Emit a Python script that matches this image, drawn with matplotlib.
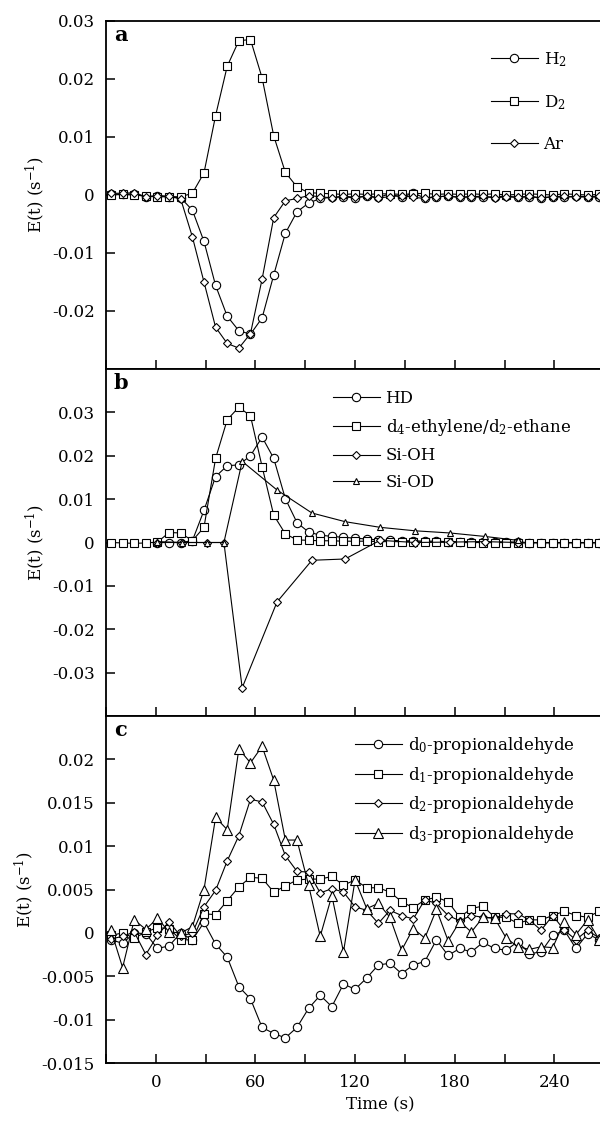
import matplotlib
matplotlib.use('Agg')
import matplotlib.pyplot as plt
from matplotlib.ticker import MultipleLocator, FuncFormatter

plt.rcParams['font.family'] = 'DejaVu Serif'
plt.rcParams['mathtext.fontset'] = 'dejavuserif'
plt.rcParams['axes.unicode_minus'] = False
plt.rcParams['font.size'] = 12

# time grid (s), shared by the sampled series
time_s = [-27, -20, -13, -6, 1, 8, 15, 22, 29, 36, 43, 50, 57, 64, 71, 78, 85,
          92, 99, 106, 113, 120, 127, 134, 141, 148, 155, 162, 169, 176, 183,
          190, 197, 204, 211, 218, 225, 232, 239, 246, 253, 260, 267]

# panel a
h2 = [0.0002, 0.0001, 0.0002, -0.0003, -0.0002, -0.0003, -0.0005, -0.0026,
      -0.0080, -0.0156, -0.0209, -0.0234, -0.0240, -0.0212, -0.0138, -0.0066,
      -0.0029, -0.0014, -0.0006,
      -0.0004, -0.0003, -0.0005, -0.0002, -0.0004, 0.0002, -0.0004, 0.0003,
      -0.0005, -0.0003, -0.0002, -0.0004, -0.0003, -0.0004, -0.0003, -0.0002,
      -0.0004, -0.0003, -0.0005, -0.0003, -0.0004, -0.0002, -0.0003, -0.0004]
d2 = [0.0, 0.0001, 0.0, -0.0002, -0.0003, -0.0003, -0.0003, 0.0003, 0.0038,
      0.0137, 0.0222, 0.0266, 0.0268, 0.0202, 0.0102, 0.0039, 0.0014, 0.0004,
      0.0003,
      0.0002, 0.0001, 0.0002, 0.0001, 0.0002, 0.0002, 0.0001, 0.0002, 0.0003,
      0.0001, 0.0002, 0.0001, 0.0002, 0.0001, 0.0002, 0.0000, 0.0001, 0.0002,
      0.0001, 0.0000, 0.0002, 0.0001, 0.0000, 0.0001]
ar = [0.0003, 0.0003, 0.0004, -0.0003, -0.0001, -0.0002, -0.0007, -0.0072,
      -0.0150, -0.0228, -0.0256, -0.0264, -0.0239, -0.0145, -0.0039, -0.0010,
      -0.0006, -0.0001,
      -0.0003, -0.0005, -0.0002, -0.0004, -0.0002, -0.0005, -0.0003, -0.0001,
      -0.0004, -0.0006, -0.0003, -0.0002, -0.0004, -0.0003, -0.0002, -0.0005,
      -0.0003, -0.0004, -0.0002, -0.0005, -0.0003, -0.0002, -0.0004, -0.0003,
      -0.0002]

# panel b
hd = [0.0, 0.0, 0.0, 0.0004, 0.0074, 0.0152, 0.0177, 0.0179, 0.0200, 0.0243,
      0.0194, 0.0101, 0.0046, 0.0024, 0.0017, 0.0014, 0.0012, 0.0010, 0.0008,
      0.0006, 0.0005,
      0.0004, 0.0004, 0.0003, 0.0003, 0.0002, 0.0002, 0.0002, 0.0001, 0.0001,
      0.0001, 0.0001, 0.0, 0.0, 0.0, 0.0, 0.0, 0.0, 0.0]   # starts at time_s[4]
ethylene = [0.0, -0.0001, -0.0002, -0.0001, 0.0001, 0.0023, 0.0022, 0.0004,
            0.0035, 0.0194, 0.0283, 0.0312, 0.0292, 0.0175, 0.0063, 0.0020,
            0.0006, 0.0005,
            0.0004, 0.0004, 0.0003, 0.0003, 0.0003, 0.0002, 0.0002, 0.0002,
            0.0002, 0.0001, 0.0001, 0.0001, 0.0001, 0.0, 0.0, 0.0, 0.0,
            -0.0001, -0.0001, -0.0001, -0.0001, -0.0001, -0.0001, -0.0001,
            -0.0001]
si_time = [1, 16, 31, 41, 52, 73, 94, 114, 135, 156, 177, 198, 218]
si_oh = [0.0, 0.0, 0.0, 0.0, -0.0335, -0.0137, -0.0041, -0.0038, 0.0005, 0.0,
         0.0001, 0.0002, 0.0]
si_od = [0.0002, 0.0, 0.0, 0.0, 0.0187, 0.0121, 0.0068, 0.0048, 0.0035,
         0.0027, 0.0022, 0.0014, 0.0005]

# panel c
prop_d0 = [-0.0008, -0.0012, 0.0, -0.0001, -0.0018, -0.0015, 0.0, -0.0008,
           0.0012, -0.0013, -0.0028, -0.0062, -0.0076, -0.0109, -0.0116,
           -0.0121, -0.0109, -0.0087, -0.0072, -0.0085, -0.0059, -0.0065,
           -0.0052, -0.0037, -0.0035, -0.0047, -0.0037, -0.0033, -0.0008,
           -0.0026, -0.0018, -0.0022, -0.0011, -0.0018, -0.0020, -0.0010,
           -0.0024, -0.0022, -0.0003, 0.0003, -0.0018, -0.0001, -0.0008]
prop_d1 = [-0.0003, 0.0, -0.0006, 0.0001, 0.0006, 0.0005, -0.0008, -0.0008,
           0.0022, 0.0021, 0.0037, 0.0053, 0.0064, 0.0063, 0.0047, 0.0054,
           0.0061, 0.0062, 0.0062, 0.0065, 0.0055, 0.0061, 0.0052, 0.0052,
           0.0047, 0.0036, 0.0029, 0.0038, 0.0041, 0.0036, 0.0018, 0.0028,
           0.0031, 0.0018, 0.0018, 0.0011, 0.0015, 0.0015, 0.0020, 0.0025,
           0.0020, 0.0018, 0.0025]
prop_d2 = [-0.0007, -0.0004, 0.0001, -0.0025, -0.0003, 0.0013, -0.0004, 0.0,
           0.0030, 0.0049, 0.0083, 0.0112, 0.0154, 0.0151, 0.0125, 0.0089,
           0.0071, 0.0070, 0.0046, 0.0051, 0.0047, 0.0030, 0.0026, 0.0011,
           0.0026, 0.0020, 0.0016, 0.0038, 0.0034, 0.0020, 0.0014, 0.0020,
           0.0018, 0.0017, 0.0022, 0.0022, 0.0015, 0.0003, 0.0020, 0.0003,
           -0.0008, 0.0003, -0.0006]
prop_d3 = [0.0003, -0.0040, 0.0015, 0.0004, 0.0017, 0.0001, 0.0, 0.0007,
           0.0050, 0.0133, 0.0119, 0.0212, 0.0196, 0.0215, 0.0176, 0.0107,
           0.0107, 0.0055, -0.0004, 0.0043, -0.0022, 0.0061, 0.0028, 0.0034,
           0.0018, -0.0020, 0.0005, -0.0006, 0.0027, -0.0009, 0.0013, 0.0001,
           0.0018, 0.0017, -0.0006, -0.0016, -0.0019, -0.0016, -0.0017,
           0.0013, -0.0002, 0.0015, -0.0008]

W, H = 600, 1129
fig = plt.figure(figsize=(W / 100, H / 100), dpi=100)


def add_panel(top_px, bottom_px):
    # axes run past the right edge of the canvas, as in the cropped original
    return fig.add_axes([106 / W, 1 - bottom_px / H, 548 / W,
                         (bottom_px - top_px) / H])


def xlabel_fmt(v, p):
    # labels every 60 s, only those that fall on the visible canvas
    if round(v) % 60 == 0 and v <= 240:
        return '%d' % v
    return ''


def style(ax, ylim, yticks, letter, show_x):
    ax.set_xlim(-30, 300)
    ax.set_ylim(*ylim)
    ax.set_yticks(yticks)
    ax.yaxis.set_major_formatter(
        FuncFormatter(lambda v, p: '%g' % (round(v, 6) + 0.0)))
    ax.xaxis.set_major_locator(MultipleLocator(30))
    ax.xaxis.set_major_formatter(FuncFormatter(xlabel_fmt))
    ax.tick_params(direction='in', length=6.5, width=1.1, pad=8,
                   top=False, right=False, labelbottom=show_x, labelsize=12)
    for s in ax.spines.values():
        s.set_linewidth(1.3)
    ax.spines['right'].set_visible(False)
    ax.set_ylabel('E(t) (s$^{-1}$)', fontsize=12)
    ax.text(0.014, 0.988, letter, transform=ax.transAxes, fontweight='bold',
            fontsize=15, va='top', ha='left')


line_kw = dict(color='black', lw=0.8, mfc='white', mec='black', mew=0.8)

ax_a = add_panel(21, 369)
ax_b = add_panel(369, 716)
ax_c = add_panel(716, 1063)

# panel a
ax_a.plot(time_s, h2, marker='o', ms=6, label='H$_2$', **line_kw)
ax_a.plot(time_s, d2, marker='s', ms=6, label='D$_2$', **line_kw)
ax_a.plot(time_s, ar, marker='D', ms=4, label='Ar', **line_kw)
style(ax_a, (-0.03, 0.03), [-0.02, -0.01, 0, 0.01, 0.02, 0.03], 'a', False)
ax_a.legend(loc='upper left', bbox_to_anchor=(491 / W, 1 - 50 / H),
            bbox_transform=fig.transFigure, frameon=False, borderpad=0,
            borderaxespad=0, handlelength=2.8, handletextpad=0.35,
            labelspacing=1.45, fontsize=12)

# panel b
ax_b.plot(time_s[4:], hd, marker='o', ms=6, label='HD', **line_kw)
ax_b.plot(time_s, ethylene, marker='s', ms=6,
          label='d$_4$-ethylene/d$_2$-ethane', **line_kw)
ax_b.plot(si_time, si_oh, marker='D', ms=4, label='Si-OH', **line_kw)
ax_b.plot(si_time, si_od, marker='^', ms=4, label='Si-OD', **line_kw)
style(ax_b, (-0.04, 0.04), [-0.03, -0.02, -0.01, 0, 0.01, 0.02, 0.03], 'b',
      False)
ax_b.legend(loc='upper left', bbox_to_anchor=(333 / W, 1 - 390 / H),
            bbox_transform=fig.transFigure, frameon=False, borderpad=0,
            borderaxespad=0, handlelength=2.8, handletextpad=0.35,
            labelspacing=0.58, fontsize=12)

# panel c
ax_c.plot(time_s, prop_d0, marker='o', ms=6, label='d$_0$-propionaldehyde',
          **line_kw)
ax_c.plot(time_s, prop_d1, marker='s', ms=6, label='d$_1$-propionaldehyde',
          **line_kw)
ax_c.plot(time_s, prop_d2, marker='D', ms=4, label='d$_2$-propionaldehyde',
          **line_kw)
ax_c.plot(time_s, prop_d3, marker='^', ms=6.5, label='d$_3$-propionaldehyde',
          **line_kw)
style(ax_c, (-0.015, 0.025),
      [-0.015, -0.01, -0.005, 0, 0.005, 0.01, 0.015, 0.02], 'c', True)
ax_c.set_xlabel('Time (s)', fontsize=12)
ax_c.legend(loc='upper left', bbox_to_anchor=(355 / W, 1 - 735 / H),
            bbox_transform=fig.transFigure, frameon=False, borderpad=0,
            borderaxespad=0, handlelength=2.8, handletextpad=0.35,
            labelspacing=0.52, fontsize=12)

fig.savefig('out.png', dpi=100)
